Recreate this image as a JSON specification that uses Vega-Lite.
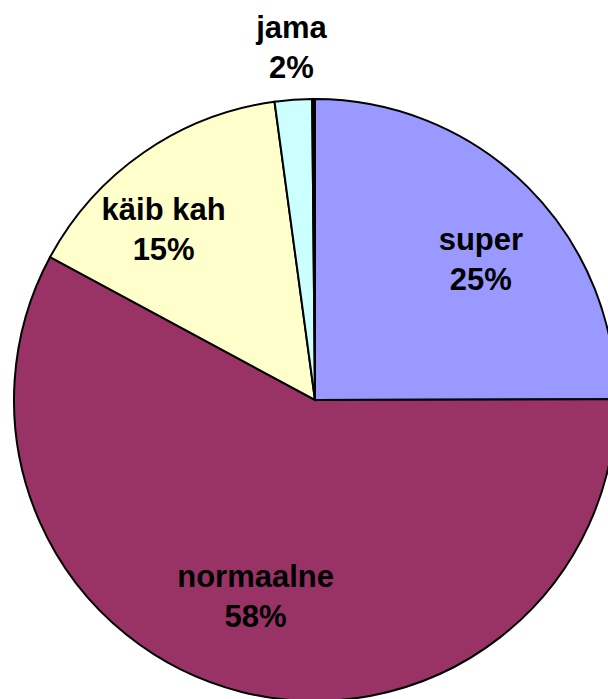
{
  "$schema": "https://vega.github.io/schema/vega-lite/v6.json",
  "autosize": {"type": "none"},
  "width": 586,
  "height": 598,
  "padding": {"left": 22, "top": 101, "right": 0, "bottom": 0},
  "background": "white",
  "view": {"stroke": null},
  "data": {
    "values": [
      {"cat": "super", "value": 25, "label": "super\n25%", "ord": 1},
      {"cat": "normaalne", "value": 58, "label": "normaalne\n58%", "ord": 2},
      {"cat": "käib kah", "value": 15, "label": "käib kah\n15%", "ord": 3},
      {"cat": "jama", "value": 2, "label": "jama\n2%", "ord": 4},
      {"cat": "muu", "value": 0.15, "label": "", "ord": 5}
    ]
  },
  "encoding": {
    "theta": {"field": "value", "type": "quantitative", "stack": true},
    "order": {"field": "ord", "type": "quantitative"}
  },
  "layer": [
    {
      "mark": {"type": "arc", "outerRadius": 301, "stroke": "black", "strokeWidth": 2},
      "encoding": {
        "color": {
          "field": "cat",
          "type": "nominal",
          "scale": {
            "domain": ["super", "normaalne", "käib kah", "jama", "muu"],
            "range": ["#9999FF", "#993366", "#FFFFCC", "#CCFFFF", "#000000"]
          },
          "legend": null
        }
      }
    },
    {
      "mark": {"type": "text", "radius": 215, "dx": 14, "dy": -7, "font": "Liberation Sans", "fontWeight": "bold", "fontSize": 31, "lineBreak": "\n", "lineHeight": 40, "align": "center", "baseline": "middle", "color": "black"},
      "encoding": {
        "text": {"condition": {"test": "datum.cat === 'super'", "field": "label"}, "value": ""}
      }
    },
    {
      "mark": {"type": "text", "radius": 215, "dx": -7, "dy": -31, "font": "Liberation Sans", "fontWeight": "bold", "fontSize": 31, "lineBreak": "\n", "lineHeight": 40, "align": "center", "baseline": "middle", "color": "black"},
      "encoding": {
        "text": {"condition": {"test": "datum.cat === 'normaalne'", "field": "label"}, "value": ""}
      }
    },
    {
      "mark": {"type": "text", "radius": 215, "dx": -29, "dy": -12, "font": "Liberation Sans", "fontWeight": "bold", "fontSize": 31, "lineBreak": "\n", "lineHeight": 40, "align": "center", "baseline": "middle", "color": "black"},
      "encoding": {
        "text": {"condition": {"test": "datum.cat === 'käib kah'", "field": "label"}, "value": ""}
      }
    },
    {
      "mark": {"type": "text", "radius": 354, "dx": 2, "dy": -18, "font": "Liberation Sans", "fontWeight": "bold", "fontSize": 31, "lineBreak": "\n", "lineHeight": 40, "align": "center", "baseline": "middle", "color": "black"},
      "encoding": {
        "text": {"condition": {"test": "datum.cat === 'jama'", "field": "label"}, "value": ""}
      }
    }
  ]
}
